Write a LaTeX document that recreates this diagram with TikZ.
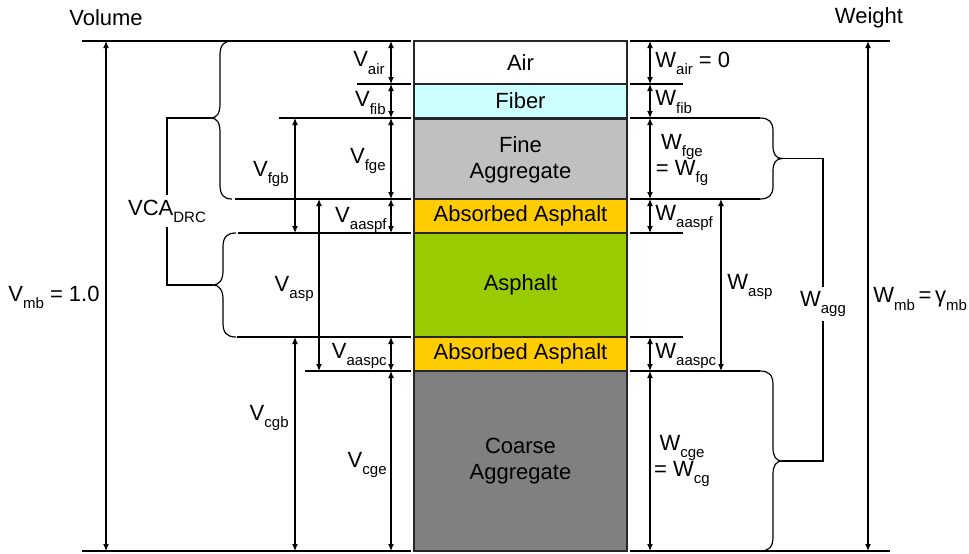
\documentclass[tikz,border=0pt]{standalone}
\usepackage{fontspec}
\setmainfont{Liberation Sans}
\usetikzlibrary{arrows.meta}
\definecolor{fibercol}{HTML}{CCFFFF}
\definecolor{finecol}{HTML}{C0C0C0}
\definecolor{abscol}{HTML}{FFCC00}
\definecolor{aspcol}{HTML}{99CC00}
\definecolor{coarsecol}{HTML}{808080}
% lowered small subscript text
\newcommand\sbs[1]{\raisebox{-0.32em}{\fontsize{7.5pt}{8pt}\selectfont #1}}
\begin{document}
\begin{tikzpicture}[x=0.5pt,y=-0.5pt,
  font=\fontsize{11pt}{13pt}\selectfont,
  guide/.style={line width=0.6pt},
  dim/.style={line width=0.6pt,{Latex[length=3.5pt,width=3pt]}-{Latex[length=3.5pt,width=3pt]}},
  lab/.style={inner sep=0pt},
  layer/.style={draw=black!85,line width=1pt,minimum width=106.5pt,inner sep=0pt,outer sep=0pt,align=center},
  gaplab/.style={fill=white,inner sep=2pt}]
\useasboundingbox (0,0) rectangle (969,553);

% material column
\node[layer,fill=white,minimum height=21.5pt] (air) at (520.5,62.5) {Air};
\node[layer,fill=fibercol,minimum height=17pt] (fib) at (520.5,101) {Fiber};
\node[layer,fill=finecol,minimum height=40.5pt] (fine) at (520.5,159.5) {Fine\\Aggregate};
\node[layer,fill=abscol,minimum height=17pt] (aaspf) at (520.5,216) {Absorbed Asphalt};
\node[layer,fill=aspcol,minimum height=52pt] (asp) at (520.5,285) {Asphalt};
\node[layer,fill=abscol,minimum height=17pt] (aaspc) at (520.5,354) {Absorbed Asphalt};
\node[layer,fill=coarsecol,minimum height=90pt] (coarse) at (520.5,461) {Coarse\\Aggregate};

% guide line ends, volume side
\coordinate (gl0) at (82,41);
\coordinate (gl1) at (357,84);
\coordinate (gl2) at (279,118);
\coordinate (gl3) at (235,199);
\coordinate (gl4) at (238,233);
\coordinate (gl5) at (237,337);
\coordinate (gl6) at (305,371);
\coordinate (gl7) at (82,551);
% guide line ends, weight side
\coordinate (gr0) at (890,41);
\coordinate (gr1) at (683,84);
\coordinate (gr2) at (760,118);
\coordinate (gr3) at (760,199);
\coordinate (gr4) at (683,233);
\coordinate (gr5) at (683,337);
\coordinate (gr6) at (760,371);
\coordinate (gr7) at (890,551);

\foreach \i in {0,...,7}{
  \draw[guide,shorten >=1.5pt] (gl\i) -- (gl\i -| air.west);
  \draw[guide,shorten <=1.5pt] (gr\i -| air.east) -- (gr\i);
}

% arrow columns
\coordinate (vA) at (391,0);
\coordinate (vB) at (319,0);
\coordinate (vC) at (295,0);
\coordinate (vD) at (106,0);
\coordinate (wA) at (650,0);
\coordinate (wB) at (721,0);
\coordinate (wD) at (868,0);

% volume dimensions
\draw[dim] (gl0 -| vA) -- (gl1 -| vA);
\draw[dim] (gl1 -| vA) -- (gl2 -| vA);
\draw[dim] (gl2 -| vA) -- (gl3 -| vA);
\draw[dim] (gl3 -| vA) -- (gl4 -| vA);
\draw[dim] (gl5 -| vA) -- (gl6 -| vA);
\draw[dim] (gl6 -| vA) -- (gl7 -| vA);
\draw[dim] (gl3 -| vB) -- (gl6 -| vB);
\draw[dim] (gl2 -| vC) -- (gl4 -| vC);
\draw[dim] (gl5 -| vC) -- (gl7 -| vC);
\draw[dim] (gl0 -| vD) -- (gl7 -| vD);

% weight dimensions
\draw[dim] (gr0 -| wA) -- (gr1 -| wA);
\draw[dim] (gr1 -| wA) -- (gr2 -| wA);
\draw[dim] (gr2 -| wA) -- (gr3 -| wA);
\draw[dim] (gr3 -| wA) -- (gr4 -| wA);
\draw[dim] (gr5 -| wA) -- (gr6 -| wA);
\draw[dim] (gr6 -| wA) -- (gr7 -| wA);
\draw[dim] (gr3 -| wB) -- (gr6 -| wB);
\draw[dim] (gr0 -| wD) -- (gr7 -| wD);

% braces
\coordinate (lbr1) at (211,118);
\coordinate (lbr2) at (213,285);
\coordinate (rbr1) at (782,158.5);
\coordinate (rbr2) at (782,461);
\draw[guide] (232,41) .. controls (224,41) and (220,45) .. (220,55) -- (220,104)
  .. controls (220,113) and (217,118) .. (lbr1)
  .. controls (217,118) and (220,123) .. (220,132) -- (220,185)
  .. controls (220,195) and (224,199) .. (232,199);
\draw[guide] (236,233) .. controls (227,233) and (223,237) .. (223,247) -- (223,271)
  .. controls (223,280) and (219,285) .. (lbr2)
  .. controls (219,285) and (223,290) .. (223,299) -- (223,323)
  .. controls (223,333) and (227,337) .. (236,337);
\draw[guide] (760,118) .. controls (769,118) and (773,122) .. (773,131) -- (773,146)
  .. controls (773,154) and (776,158.5) .. (rbr1)
  .. controls (776,158.5) and (773,163) .. (773,171) -- (773,186)
  .. controls (773,195) and (769,199) .. (760,199);
\draw[guide] (760,371) .. controls (769,371) and (773,375) .. (773,385) -- (773,448)
  .. controls (773,456) and (776,461) .. (rbr2)
  .. controls (776,461) and (773,466) .. (773,474) -- (773,537)
  .. controls (773,547) and (769,551) .. (760,551);

% brace leaders with their labels
\node[gaplab] (vca) at (167,211) {VCA\sbs{DRC}};
\draw[guide] (lbr1) -| (vca.north);
\draw[guide] (vca.south) |- (lbr2);
\node[gaplab] (wagg) at (823,304) {W\sbs{agg}};
\draw[guide] (rbr1) -| (wagg.north);
\draw[guide] (wagg.south) |- (rbr2);

% headings
\node[lab] (volume) at (106,18) {Volume};
\node[lab] (weight) at (869,18) {Weight};

% volume labels
\node[lab,anchor=east] (vair) at (385,63) {V\sbs{air}};
\node[lab,anchor=east] (vfib) at (386,103) {V\sbs{fib}};
\node[lab,anchor=east] (vfge) at (386,161) {V\sbs{fge}};
\node[lab,anchor=east] (vaaspf) at (387,220) {V\sbs{aaspf}};
\node[lab,anchor=east] (vaaspc) at (387,356) {V\sbs{aaspc}};
\node[lab,anchor=east] (vcge) at (387,465) {V\sbs{cge}};
\node[lab,anchor=east] (vfgb) at (289,174) {V\sbs{fgb}};
\node[lab,anchor=east] (vasp) at (314,289) {V\sbs{asp}};
\node[lab,anchor=east] (vcgb) at (289,418) {V\sbs{cgb}};
\node[lab,anchor=east] (vmb) at (100,297) {V\sbs{mb} = 1.0};

% weight labels
\node[lab,anchor=west] (wair) at (655,63) {W\sbs{air} = 0};
\node[lab,anchor=west] (wfib) at (655,102) {W\sbs{fib}};
\node[lab,align=center] (wfge) at (682,160) {W\sbs{fge}\\= W\sbs{fg}};
\node[lab,anchor=west] (waaspf) at (655,218) {W\sbs{aaspf}};
\node[lab,anchor=west] (waaspc) at (655,356) {W\sbs{aaspc}};
\node[lab,align=center] (wcge) at (682,461) {W\sbs{cge}\\= W\sbs{cg}};
\node[lab,anchor=west] (wasp) at (727,287) {W\sbs{asp}};
\node[lab,anchor=west] (wmb) at (873,299) {W\sbs{mb}\,=\,γ\sbs{mb}};
\end{tikzpicture}
\end{document}
